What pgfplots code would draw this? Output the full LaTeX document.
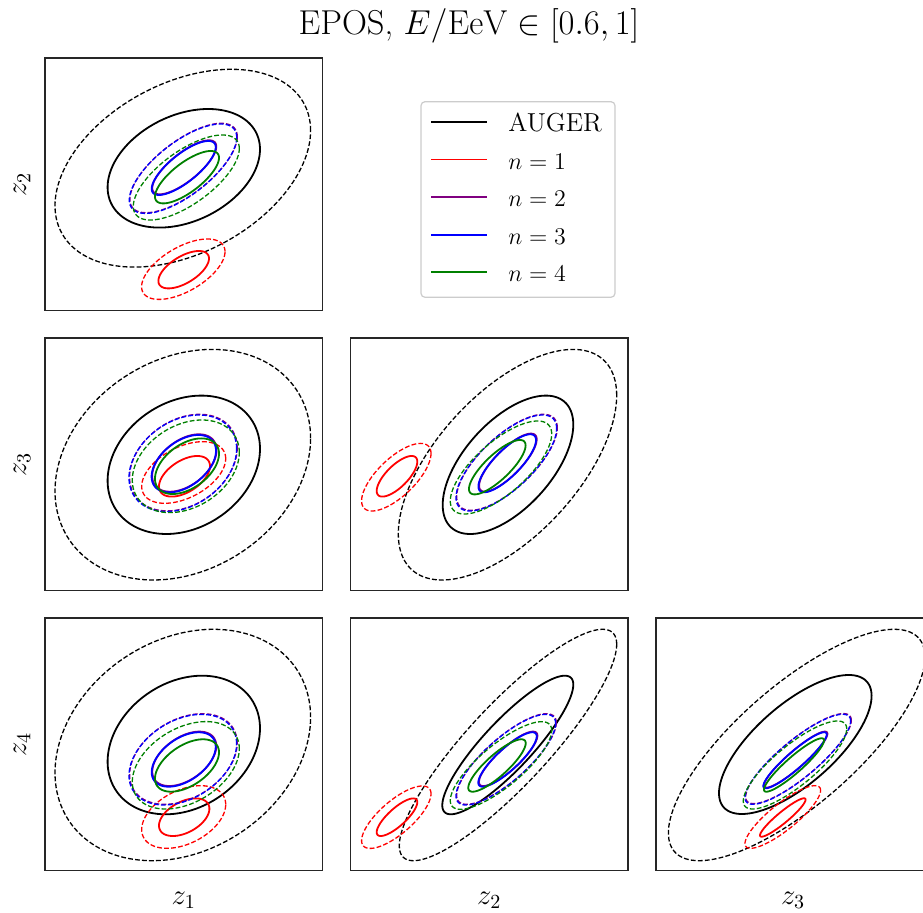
\documentclass[border=0pt]{standalone}
\usepackage{pgfplots}
\pgfplotsset{compat=1.18}

\definecolor{mplpurple}{HTML}{800080}
\definecolor{mplgreen}{HTML}{008000}
\definecolor{mplblue}{HTML}{0000FF}
\definecolor{mplred}{HTML}{FF0000}

% confidence ellipse: style, centre x, centre y, half width, half height, correlation
\newcommand{\conf}[6]{%
  \addplot[#1,forget plot,domain=0:360,samples=145]
    ({#2+#4*cos(x)},{#3-#5*((#6)*cos(x)+sqrt(1-(#6)^2)*sin(x))});}

\pgfplotsset{
  panel/.style={scale only axis, width=138.75pt, height=126.25pt,
    anchor=north west, y dir=reverse, xtick=\empty, ytick=\empty,
    axis line style={line width=0.6pt, black!85},
    label style={font=\fontsize{14.4}{17}\selectfont},
    xlabel style={at={(axis description cs:0.5,-0.119)}, anchor=center},
    ylabel style={at={(axis description cs:-0.083,0.5)}, anchor=center}},
  sol/.style={line width=0.9pt},
  dsh/.style={line width=0.65pt, dash pattern=on 2.4pt off 1.1pt},
}

\begin{document}
\begin{tikzpicture}
% z1 - z2
\begin{axis}[panel, at={(22.5pt,-29pt)}, xmin=45, xmax=322.5, ymin=58, ymax=310.5,
  ylabel={$z_2$}]
\conf{black,dsh}{182.8}{168.2}{127.8}{98.9}{0.38}
\conf{black,sol}{183.8}{168.3}{76.2}{59.3}{0.32}
\conf{mplred,dsh}{183.3}{269.2}{41.7}{30.2}{0.58}
\conf{mplred,sol}{183.7}{269.7}{25.3}{18.7}{0.6}
\conf{mplpurple,dsh}{183.6}{168.0}{53.7}{44.7}{0.7}
\conf{mplpurple,sol}{184.3}{167.3}{32}{27}{0.77}
\conf{mplblue,dsh}{183}{168.7}{53.7}{44.7}{0.7}
\conf{mplblue,sol}{183.7}{168}{32}{27}{0.77}
\conf{mplgreen,dsh}{186.3}{177.5}{53}{42.5}{0.68}
\conf{mplgreen,sol}{187}{177.2}{32}{26.2}{0.74}
\end{axis}

% z1 - z3
\begin{axis}[panel, at={(22.5pt,-169pt)}, xmin=45, xmax=322.5, ymin=338, ymax=590.5,
  ylabel={$z_3$}]
\conf{black,dsh}{182.8}{464.7}{127.8}{115.3}{0.23}
\conf{black,sol}{183.8}{464.8}{76.2}{69.2}{0.23}
\conf{mplred,dsh}{183.7}{472.5}{42}{30.8}{0.45}
\conf{mplred,sol}{184.5}{476.3}{25.5}{20.3}{0.5}
\conf{mplpurple,dsh}{183.4}{462.6}{53.8}{48.3}{0.3}
\conf{mplpurple,sol}{184.4}{463.0}{32.2}{28.7}{0.45}
\conf{mplblue,dsh}{182.8}{463.3}{53.8}{48.3}{0.3}
\conf{mplblue,sol}{183.8}{463.7}{32.2}{28.7}{0.45}
\conf{mplgreen,dsh}{185.8}{466.3}{53.5}{46.3}{0.3}
\conf{mplgreen,sol}{187}{466.2}{32}{27.8}{0.45}
\end{axis}

% z2 - z3
\begin{axis}[panel, at={(175.25pt,-169pt)}, xmin=350.5, xmax=628, ymin=338, ymax=590.5]
\conf{black,dsh}{507.5}{464.7}{109.2}{115.3}{0.6}
\conf{black,sol}{508}{464.8}{65.3}{69.2}{0.58}
\conf{mplred,dsh}{396.3}{477.2}{34.7}{33.8}{0.7}
\conf{mplred,sol}{397}{476.3}{20.3}{20.3}{0.72}
\conf{mplpurple,dsh}{507.0}{462.3}{50.3}{48}{0.72}
\conf{mplpurple,sol}{507.9}{462.6}{28.8}{29}{0.8}
\conf{mplblue,dsh}{506.3}{463}{50.3}{48}{0.72}
\conf{mplblue,sol}{507.2}{463.3}{28.8}{29}{0.8}
\conf{mplgreen,dsh}{501}{467.5}{50.7}{46.5}{0.72}
\conf{mplgreen,sol}{497.3}{467.2}{28.3}{27.2}{0.8}
\end{axis}

% z1 - z4
\begin{axis}[panel, at={(22.5pt,-309pt)}, xmin=45, xmax=322.5, ymin=618, ymax=870.5,
  ylabel={$z_4$}, xlabel={$z_1$}]
\conf{black,dsh}{182.8}{745}{127.8}{115.7}{0.24}
\conf{black,sol}{183.8}{745}{76.2}{69.3}{0.24}
\conf{mplred,dsh}{183.7}{817}{42}{31.3}{0.4}
\conf{mplred,sol}{184.2}{817.2}{25.2}{18.8}{0.45}
\conf{mplpurple,dsh}{183.4}{759.0}{53.8}{45.3}{0.35}
\conf{mplpurple,sol}{184.3}{758.8}{32}{27.2}{0.47}
\conf{mplblue,dsh}{182.8}{759.7}{53.8}{45.3}{0.35}
\conf{mplblue,sol}{183.7}{759.5}{32}{27.2}{0.47}
\conf{mplgreen,dsh}{185.8}{765.3}{53.5}{43.7}{0.38}
\conf{mplgreen,sol}{187}{765.5}{32}{26.2}{0.5}
\end{axis}

% z2 - z4
\begin{axis}[panel, at={(175.25pt,-309pt)}, xmin=350.5, xmax=628, ymin=618, ymax=870.5,
  xlabel={$z_2$}]
\conf{black,dsh}{508}{745}{108.7}{115.7}{0.87}
\conf{black,sol}{507.8}{745}{65.5}{69.3}{0.87}
\conf{mplred,dsh}{396.3}{817.2}{34.7}{31.2}{0.75}
\conf{mplred,sol}{397}{817.2}{20.3}{18.8}{0.8}
\conf{mplpurple,dsh}{506.5}{759.0}{49.8}{45.3}{0.8}
\conf{mplpurple,sol}{508.2}{758.8}{29.2}{27.2}{0.85}
\conf{mplblue,dsh}{505.8}{759.7}{49.8}{45.3}{0.8}
\conf{mplblue,sol}{507.5}{759.5}{29.2}{27.2}{0.85}
\conf{mplgreen,dsh}{501}{765.5}{50.7}{43.8}{0.8}
\conf{mplgreen,sol}{497}{765.5}{28.7}{26.2}{0.85}
\end{axis}

% z3 - z4
\begin{axis}[panel, at={(328pt,-309pt)}, xmin=656, xmax=933.5, ymin=618, ymax=870.5,
  xlabel={$z_3$}, xlabel style={at={(axis description cs:0.494,-0.119)}}]
\conf{black,dsh}{796.7}{745}{128.3}{115.7}{0.76}
\conf{black,sol}{795.3}{744.5}{76.3}{69.5}{0.7}
\conf{mplred,dsh}{782.8}{817}{37.8}{31.3}{0.85}
\conf{mplred,sol}{782.8}{817.5}{22.8}{19.2}{0.93}
\conf{mplpurple,dsh}{798.5}{758.6}{52.8}{45}{0.85}
\conf{mplpurple,sol}{795.7}{759.6}{31.7}{28}{0.92}
\conf{mplblue,dsh}{797.8}{759.3}{52.8}{45}{0.85}
\conf{mplblue,sol}{795}{760.3}{31.7}{28}{0.92}
\conf{mplgreen,dsh}{795}{765}{51.7}{44}{0.82}
\conf{mplgreen,sol}{794}{765}{30}{26.7}{0.92}
\end{axis}

% legend box
\draw[black!20, fill=white, line width=0.6pt, rounded corners=2pt]
  (210.5pt,-50.85pt) rectangle (307.5pt,-148.65pt);

% legend sample lines, in page pixel units
\begin{axis}[hide axis, scale only axis, width=461.5pt, height=456.5pt,
  anchor=north west, at={(0pt,0pt)}, y dir=reverse,
  xmin=0, xmax=923, ymin=0, ymax=913]
\addplot[black, line width=0.9pt, forget plot] coordinates {(431,122) (487,122)};
\addplot[mplred, line width=0.9pt, forget plot] coordinates {(431,159.6) (487,159.6)};
\addplot[mplpurple, line width=0.9pt, forget plot] coordinates {(431,197.2) (487,197.2)};
\addplot[mplblue, line width=0.9pt, forget plot] coordinates {(431,234.8) (487,234.8)};
\addplot[mplgreen, line width=0.9pt, forget plot] coordinates {(431,272.4) (487,272.4)};
\end{axis}

% legend labels
\foreach \yy/\tt in {61/AUGER, 79.8/{$n=1$}, 98.6/{$n=2$}, 117.4/{$n=3$}, 136.2/{$n=4$}} {
  \node[anchor=base west, inner sep=0pt, font=\fontsize{13}{15}\selectfont]
    at (254pt,-\yy pt-4.8pt) {\tt};
}

\node[anchor=base, font=\fontsize{17.28}{20}\selectfont] at (234.5pt,-17.5pt)
  {EPOS, $E/\mathrm{EeV}\in[0.6,1]$};

% page frame: the right panel runs past the page edge
\pgfresetboundingbox
\path (0pt,0pt) rectangle (461.5pt,-456.5pt);
\end{tikzpicture}
\end{document}
